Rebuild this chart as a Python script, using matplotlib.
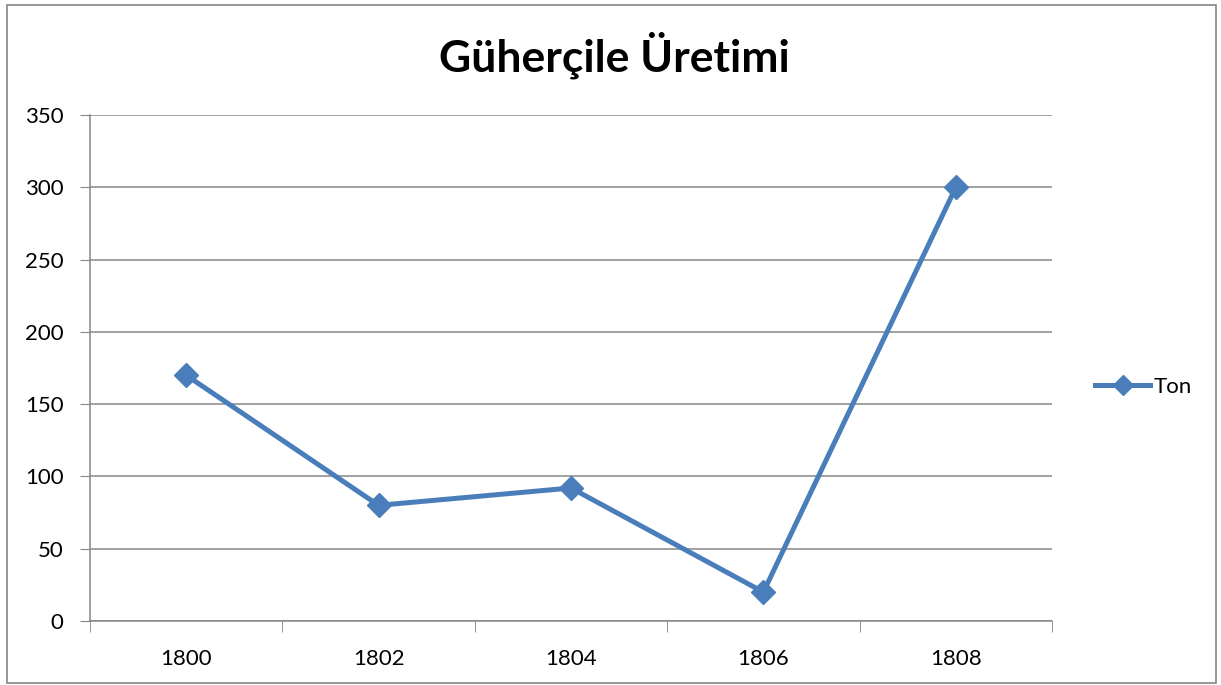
import numpy as np
import matplotlib.pyplot as plt
from matplotlib.patches import Rectangle

# chart data
years = ['1800', '1802', '1804', '1806', '1808']
ton = [170, 80, 92, 20, 300]
y_ticks = [0, 50, 100, 150, 200, 250, 300, 350]

plt.rcParams['font.family'] = ['Lato', 'DejaVu Sans']

fig = plt.figure(figsize=(12.21, 6.85), dpi=100)
ax = fig.add_axes([90 / 1221, 64 / 685, 962 / 1221, 506 / 685])

x = np.arange(len(years))
ax.plot(x, ton, color='#4A7EBB', linewidth=3.6, marker='D', markersize=12,
        label='Ton', zorder=3)

ax.set_xlim(-0.5, len(years) - 0.5)
ax.set_ylim(0, 350)
ax.set_yticks(y_ticks)
ax.set_xticks(x)
ax.set_xticklabels(years)
ax.set_xticks(np.arange(len(years) + 1) - 0.5, minor=True)

ax.grid(axis='y', color='#868686', linewidth=1.1)
ax.set_axisbelow(True)
for side in ['top', 'right']:
    ax.spines[side].set_visible(False)
for side in ['left', 'bottom']:
    ax.spines[side].set_color('#868686')
    ax.spines[side].set_linewidth(1.1)

ax.tick_params(axis='y', length=7, color='#868686', labelsize=16, pad=12)
ax.tick_params(axis='x', which='major', length=0, labelsize=16, pad=20)
ax.tick_params(axis='x', which='minor', length=8, color='#868686')

fig.text(614 / 1221, 1 - 55 / 685, 'Güherçile Üretimi', ha='center', va='center',
         fontsize=32, fontweight='bold')

fig.legend(loc='center left', bbox_to_anchor=(1086 / 1221, 1 - 387 / 685),
           frameon=False, fontsize=16, handlelength=2.5, handletextpad=0.15,
           markerscale=0.85, borderaxespad=0)

# outer chart border
fig.patches.append(Rectangle((7 / 1221, 2 / 685), 1209 / 1221, 678 / 685,
                             transform=fig.transFigure, fill=False,
                             edgecolor='#868686', linewidth=1.2))

fig.savefig('out.png', dpi=100)
